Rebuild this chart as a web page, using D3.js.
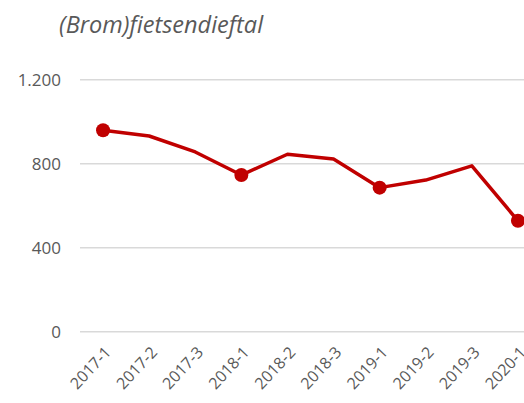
<!DOCTYPE html>
<html>
<head>
<meta charset="utf-8">
<script src="https://cdn.jsdelivr.net/npm/d3@7"></script>
<style>
  body { margin: 0; background: #fff; }
  svg { display: block; font-family: "Open Sans", sans-serif; }
</style>
</head>
<body>
<svg id="chart" width="524" height="403"></svg>
<script>
// Data
var categories = ['2017-1', '2017-2', '2017-3', '2018-1', '2018-2', '2018-3', '2019-1', '2019-2', '2019-3', '2020-1'];
var values = [959, 932, 856, 746, 845, 822, 686, 722, 790, 528];
var markerCats = ['2017-1', '2018-1', '2019-1', '2020-1'];
var yTicks = [0, 400, 800, 1200];

var svg = d3.select('#chart');

// Plot area (right side runs past the window like the original)
var plotLeft = 80, plotRight = 541, plotTop = 79.7, plotBottom = 331.7;

var x = d3.scaleBand()
  .domain(categories)
  .range([plotLeft, plotRight]);

var y = d3.scaleLinear()
  .domain([0, 1200])
  .range([plotBottom, plotTop]);

// Title
svg.append('text')
  .attr('x', 59)
  .attr('y', 33)
  .attr('font-size', 23.5)
  .attr('font-style', 'italic')
  .attr('fill', '#595959')
  .text('(Brom)fietsendieftal');

// Gridlines
svg.selectAll('.grid')
  .data(yTicks).enter()
  .append('line')
  .attr('class', 'grid')
  .attr('x1', plotLeft)
  .attr('x2', 524)
  .attr('y1', function (d) { return y(d); })
  .attr('y2', function (d) { return y(d); })
  .attr('stroke', '#d9d9d9')
  .attr('stroke-width', 1.5);

// Y labels
svg.selectAll('.ylabel')
  .data(yTicks).enter()
  .append('text')
  .attr('class', 'ylabel')
  .attr('x', 61)
  .attr('y', function (d) { return y(d); })
  .attr('dy', '0.35em')
  .attr('text-anchor', 'end')
  .attr('font-size', 17)
  .attr('fill', '#595959')
  .text(function (d) { return d3.format(',')(d).replace(/,/g, '.'); });

// X labels, rotated
svg.selectAll('.xlabel')
  .data(categories).enter()
  .append('text')
  .attr('class', 'xlabel')
  .attr('text-anchor', 'end')
  .attr('font-size', 16)
  .attr('fill', '#595959')
  .attr('transform', function (d) {
    var cx = x(d) + x.bandwidth() / 2 + 9;
    return 'translate(' + cx + ',353) rotate(-47)';
  })
  .text(function (d) { return d; });

// Line
var line = d3.line()
  .x(function (d, i) { return x(categories[i]) + x.bandwidth() / 2; })
  .y(function (d) { return y(d); });

svg.append('path')
  .datum(values)
  .attr('d', line)
  .attr('fill', 'none')
  .attr('stroke', '#C00000')
  .attr('stroke-width', 3.5)
  .attr('stroke-linejoin', 'round');

// Markers
svg.selectAll('.marker')
  .data(markerCats).enter()
  .append('circle')
  .attr('class', 'marker')
  .attr('cx', function (d) { return x(d) + x.bandwidth() / 2; })
  .attr('cy', function (d) { return y(values[categories.indexOf(d)]); })
  .attr('r', 7)
  .attr('fill', '#C00000');
</script>
</body>
</html>
